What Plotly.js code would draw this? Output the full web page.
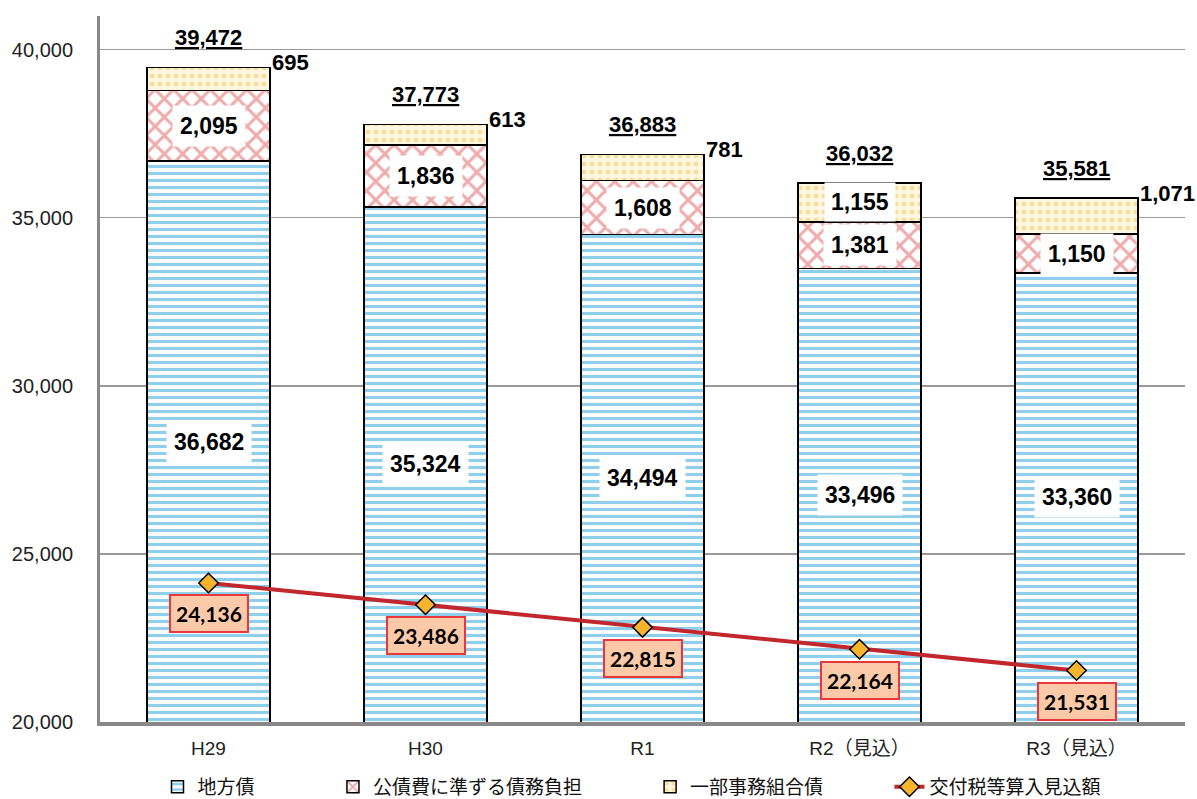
<!DOCTYPE html>
<html><head><meta charset="utf-8">
<script src="https://cdn.plot.ly/plotly-3.0.1.min.js"></script>
<style>html,body{margin:0;padding:0;background:#fff}#chart{width:1197px;height:799px}</style>
</head><body><div id="chart"></div>
<script>
const categories = ['H29','H30','R1','R2（見込）','R3（見込）'];
const chihousai = [36682, 35324, 34494, 33496, 33360];
const kousaihi = [2095, 1836, 1608, 1381, 1150];
const ichibu = [695, 613, 781, 1155, 1071];
const totals = [39472, 37773, 36883, 36032, 35581];
const koufuzei = [24136, 23486, 22815, 22164, 21531];
const seriesNames = ['地方債','公債費に準ずる債務負担','一部事務組合債','交付税等算入見込額'];
const ichibuInside = [false, false, false, true, false];

const yMin = 20000, yMax = 41000;
const labFont = {family:'Liberation Sans, Arial, sans-serif', size:23, color:'#000', weight:'bold'};
const outFont = {family:'Liberation Sans, Arial, sans-serif', size:22, color:'#000', weight:'bold'};
const jp = 'Liberation Sans, Noto Sans CJK JP, sans-serif';

const traces = [
 {type:'bar', name:seriesNames[0], x:categories, y:chihousai, legend:'legend',
  marker:{color:'#ffffff', line:{color:'#000', width:1.5},
   pattern:{shape:'-', fgcolor:'#1f9fd8', bgcolor:'#ffffff', size:7, solidity:0.45, fillmode:'overlay'}},
  hoverinfo:'skip'},
 {type:'bar', name:seriesNames[1], x:categories, y:kousaihi, legend:'legend2',
  marker:{color:'#ffffff', line:{color:'#000', width:1.5},
   pattern:{shape:'x', fgcolor:'#e05a5a', bgcolor:'#ffffff', size:13, solidity:0.42, fillmode:'overlay'}},
  hoverinfo:'skip'},
 {type:'bar', name:seriesNames[2], x:categories, y:ichibu, legend:'legend3',
  marker:{color:'#fff7e2', line:{color:'#000', width:1.5},
   pattern:{shape:'.', fgcolor:'#f4c352', bgcolor:'#fff7e2', size:8, solidity:0.3, fillmode:'overlay'}},
  hoverinfo:'skip'},
 {type:'scatter', mode:'lines+markers', name:seriesNames[3], x:categories, y:koufuzei, legend:'legend4',
  line:{color:'#c1272d', width:4},
  marker:{symbol:'diamond', size:15, color:'#f7b42c', line:{color:'#000', width:1.5}},
  hoverinfo:'skip'}
];

const ann = [];
categories.forEach((c,i)=>{
  const base = chihousai[i];
  ann.push({x:c, y:(yMin+base)/2, text:chihousai[i].toLocaleString('en-US'), showarrow:false,
    font:labFont, bgcolor:'#fff', borderpad:7});
  ann.push({x:c, y:base+kousaihi[i]/2, text:kousaihi[i].toLocaleString('en-US'), showarrow:false,
    font:labFont, bgcolor:'#fff', borderpad:7});
  if (ichibuInside[i]) {
    ann.push({x:c, y:base+kousaihi[i]+ichibu[i]/2, text:ichibu[i].toLocaleString('en-US'), showarrow:false,
      font:labFont, bgcolor:'#fff', borderpad:6});
  } else {
    ann.push({x:c, y:totals[i], text:ichibu[i].toLocaleString('en-US'), showarrow:false,
      font:outFont, xanchor:'left', yanchor:'middle', xshift:61, yshift:5});
  }
  ann.push({x:c, y:totals[i], text:'<u>'+totals[i].toLocaleString('en-US')+'</u>', showarrow:false,
    font:outFont, yanchor:'bottom', yshift:15});
  ann.push({x:c, y:koufuzei[i], text:koufuzei[i].toLocaleString('en-US'), showarrow:false,
    font:{family:'Lato, Liberation Sans, sans-serif', size:21, color:'#000', weight:'bold'},
    bgcolor:'#fdcaa9', bordercolor:'#e8383d', borderwidth:2, borderpad:5, yshift:-31});
});

const legBase = {orientation:'h', yanchor:'middle', y:-0.092, xanchor:'left', bgcolor:'rgba(0,0,0,0)',
  font:{family:jp, size:19, color:'#111'}};
const layout = {
  width:1197, height:799,
  margin:{l:100, r:12, t:16, b:77, autoexpand:false},
  paper_bgcolor:'#fff', plot_bgcolor:'#fff',
  barmode:'stack', bargap:0.433,
  showlegend:true,
  legend:Object.assign({}, legBase, {x:0.053}),
  legend2:Object.assign({}, legBase, {x:0.2147}),
  legend3:Object.assign({}, legBase, {x:0.507}),
  legend4:Object.assign({}, legBase, {x:0.7276}),
  xaxis:{type:'category', range:[-0.5, 4.5], showline:true, linecolor:'#888', linewidth:4, ticks:'',
    ticklabelstandoff:6,
    tickfont:{family:jp, size:19, color:'#222'}, showgrid:false, zeroline:false, fixedrange:true},
  yaxis:{range:[yMin, yMax], tickvals:[20000,25000,30000,35000,40000], tickformat:',d',
    showline:true, linecolor:'#888', linewidth:3, showgrid:true, gridcolor:'#999', gridwidth:1.5,
    ticks:'', ticklabelstandoff:20, tickfont:{family:'Liberation Sans, Arial, sans-serif', size:20, color:'#222'},
    zeroline:false, fixedrange:true},
  annotations:ann
};
Plotly.newPlot('chart', traces, layout, {displayModeBar:false, staticPlot:true});
</script></body></html>
